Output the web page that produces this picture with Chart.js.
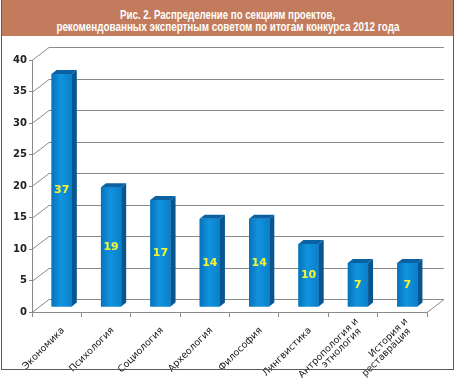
<!DOCTYPE html>
<html>
<head>
<meta charset="utf-8">
<script src="https://cdn.jsdelivr.net/npm/chart.js@4.4.1/dist/chart.umd.min.js"></script>
<style>
  html, body { margin: 0; padding: 0; background: #fff; }
  #wrap { position: relative; width: 459px; height: 378px; overflow: hidden; }
  #c { position: absolute; left: 0; top: 0; }
  #frame { position: absolute; left: 1px; top: 0; width: 451px; height: 369px; border: 1.5px solid #5a5a5a; border-top: none; pointer-events: none; }
  #hdr { position: absolute; left: 2px; top: 0; width: 451px; height: 36px; background: #C27B5C;
         color: #fff; font-family: "Liberation Sans", Arial, sans-serif;
         font-weight: bold; font-size: 12px; line-height: 12px; text-align: center;
         padding-top: 9px; box-sizing: border-box; white-space: nowrap; }
  #hdr .ln { display: inline-block; transform-origin: 50% 50%; }
</style>
</head>
<body>
<div id="wrap">
  <canvas id="c" width="459" height="378"></canvas>
  <div id="hdr"><span class="ln" data-w="215">Рис. 2. Распределение по секциям проектов,</span><br><span class="ln" data-w="343">рекомендованных экспертным советом по итогам конкурса 2012 года</span></div>
  <div id="frame"></div>
</div>
<script>
const categories = [
  ["Экономика"],
  ["Психология"],
  ["Социология"],
  ["Археология"],
  ["Философия"],
  ["Лингвистика"],
  ["Антропология и", "этнология"],
  ["История и", "реставрация"]
];
const values = [37, 19, 17, 14, 14, 10, 7, 7];
const yMin = 0, yMax = 40, yStep = 5;

// fit condensed-looking header lines
document.querySelectorAll('#hdr .ln').forEach(s => {
  const w = s.getBoundingClientRect().width;
  const target = parseFloat(s.dataset.w);
  s.style.transform = 'scaleX(' + (target / w) + ')';
});

// 3D geometry (pixels)
const WALL_DX = 17, WALL_DY = -13;   // back wall offset
const BAR_TX = 5, BAR_TY = -5;       // bar placement inside depth
const BAR_DX = 5, BAR_DY = -4;       // bar depth
const GRID = '#8a8a8a';

const threeD = {
  id: 'threeD',
  beforeDatasetsDraw(chart) {
    const ctx = chart.ctx, a = chart.chartArea, ys = chart.scales.y;
    ctx.save();
    ctx.strokeStyle = GRID;
    ctx.lineWidth = 1;
    ys.ticks.forEach(t => {
      const y = Math.round(ys.getPixelForValue(t.value)) + 0.5;
      ctx.beginPath();
      ctx.moveTo(a.left, y);
      ctx.lineTo(a.left + WALL_DX, y + WALL_DY);
      ctx.lineTo(a.right + WALL_DX, y + WALL_DY);
      ctx.stroke();
    });
    const yb = Math.round(a.bottom) + 0.5;
    ctx.beginPath();
    ctx.moveTo(a.right, yb);
    ctx.lineTo(a.right + WALL_DX, yb + WALL_DY);
    ctx.stroke();
    ctx.restore();
    ctx.save();
    ctx.translate(BAR_TX, BAR_TY);
  },
  afterDatasetsDraw(chart) {
    const ctx = chart.ctx;
    const meta = chart.getDatasetMeta(0);
    meta.data.forEach((el, i) => {
      const p = el.getProps(['x', 'y', 'base', 'width'], true);
      const x0 = p.x - p.width / 2, x1 = p.x + p.width / 2;
      const top = p.y, bot = p.base;
      const g = ctx.createLinearGradient(x0, 0, x1, 0);
      g.addColorStop(0, '#0673BA');
      g.addColorStop(0.45, '#1193DD');
      g.addColorStop(1, '#0A80CB');
      ctx.fillStyle = g;
      ctx.fillRect(x0, top, p.width, bot - top);
      ctx.fillStyle = '#075690';
      ctx.beginPath();
      ctx.moveTo(x1, top);
      ctx.lineTo(x1 + BAR_DX, top + BAR_DY);
      ctx.lineTo(x1 + BAR_DX, bot + BAR_DY);
      ctx.lineTo(x1, bot);
      ctx.closePath();
      ctx.fill();
      ctx.fillStyle = '#0A62A3';
      ctx.beginPath();
      ctx.moveTo(x0, top);
      ctx.lineTo(x0 + BAR_DX, top + BAR_DY);
      ctx.lineTo(x1 + BAR_DX, top + BAR_DY);
      ctx.lineTo(x1, top);
      ctx.closePath();
      ctx.fill();
      ctx.fillStyle = '#F6F632';
      ctx.font = 'bold 11px "DejaVu Sans", sans-serif';
      ctx.textAlign = 'center';
      ctx.textBaseline = 'middle';
      ctx.fillText(String(values[i]), p.x, (top + bot) / 2);
    });
    ctx.restore();
  },
  afterDraw(chart) {
    const ctx = chart.ctx, a = chart.chartArea, xs = chart.scales.x;
    ctx.save();
    ctx.fillStyle = '#1a1a1a';
    ctx.font = '9.5px "DejaVu Sans", sans-serif';
    ctx.textBaseline = 'middle';
    ctx.textAlign = 'right';
    categories.forEach((lines, i) => {
      const cx = xs.getPixelForValue(i);
      const multi = lines.length > 1;
      const x = cx + (multi ? 4 : 6.5);
      const y = a.bottom + (multi ? 8 : 17);
      ctx.save();
      ctx.translate(x, y);
      ctx.rotate(-Math.PI / 4);
      lines.forEach((s, j) => {
        ctx.fillText(s, -5 * j, 9 * j);
      });
      ctx.restore();
    });
    ctx.restore();
  }
};

new Chart(document.getElementById('c'), {
  type: 'bar',
  data: {
    labels: categories,
    datasets: [{
      data: values,
      backgroundColor: '#0A80CB',
      borderWidth: 0,
      barPercentage: 0.41,
      categoryPercentage: 1.0
    }]
  },
  options: {
    responsive: false,
    animation: false,
    devicePixelRatio: 1,
    layout: { padding: { top: 60, left: 2, right: 32, bottom: 0 } },
    plugins: { legend: { display: false }, tooltip: { enabled: false }, title: { display: false } },
    scales: {
      x: {
        grid: { display: true, drawOnChartArea: false, drawTicks: true, tickLength: 5, color: GRID, offset: true },
        border: { display: true, color: GRID, width: 1 },
        ticks: { display: false },
        afterFit(s) { s.height = 66; }
      },
      y: {
        min: yMin, max: yMax,
        grid: { display: true, drawOnChartArea: false, drawTicks: true, tickLength: 3, color: GRID },
        border: { display: true, color: GRID, width: 1 },
        ticks: { stepSize: yStep, padding: 2, color: '#222', font: { family: '"DejaVu Sans", sans-serif', size: 10, weight: 'bold' } },
        afterFit(s) { s.width = 30; }
      }
    }
  },
  plugins: [threeD]
});
</script>
</body>
</html>
